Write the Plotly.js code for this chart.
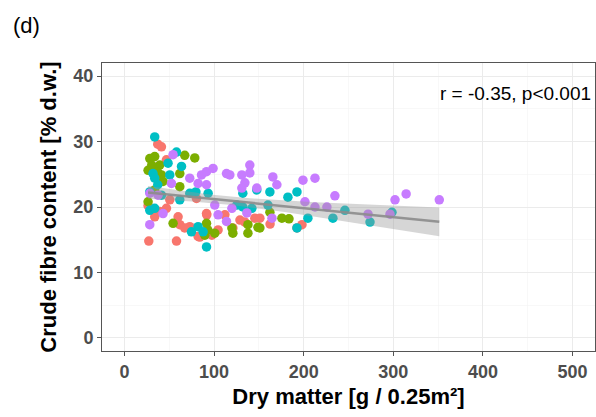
<!DOCTYPE html>
<html>
<head>
<meta charset="utf-8">
<script src="https://cdn.plot.ly/plotly-3.0.1.min.js"></script>
<style>html,body{margin:0;padding:0;background:#fff;}#chart{width:596px;height:417px;}</style>
</head>
<body>
<div id="chart"></div>
<script>
// Group 1 (red)
const redX = [41.3,37.2,46.9,26.4,39.4,46.9,59.9,61.8,72.9,58.1,82.2,91.6,104.5,80.4,27.2,33.8,50.6,67.3,134.4,145.5,151.1,121.0,198.1,192.5,97.6,128.9,112.1,162.5,84.1,91.9];
const redY = [29.2,29.6,27.2,20.2,19.3,19.8,18.5,17.3,17.0,14.8,15.5,19.0,16.5,21.3,14.8,18.5,21.1,16.8,17.7,18.3,18.3,16.8,17.3,16.8,15.7,18.0,18.8,17.4,15.4,18.8];
// Group 2 (green)
const greenX = [28.3,33.8,67.3,78.5,26.4,33.8,39.4,41.3,61.8,43.1,61.8,26.4,54.3,89.7,91.6,30.5,37.2,33.8,93.0,119.9,121.0,137.8,137.8,151.1,162.3,175.7,183.6,149.0,100.8];
const greenY = [27.4,27.7,27.9,27.5,25.6,25.9,26.4,24.9,25.1,23.9,23.1,20.8,17.5,15.7,17.5,26.4,25.3,22.6,16.5,16.8,16.0,17.3,16.0,16.8,19.2,18.3,18.2,16.9,16.0];
// Group 3 (cyan)
const cyanX = [33.8,48.7,58.1,31.9,33.8,50.6,63.7,28.3,41.3,93.4,61.8,28.3,33.8,74.8,82.2,87.8,91.6,79.7,72.9,37.2,125.4,132.1,142.2,132.1,147.7,162.3,182.4,192.5,160.1,204.7,192.5,232.6,246.0,274.0,298.5];
const cyanY = [30.7,26.7,28.4,25.1,24.4,24.9,26.2,22.3,21.8,22.1,21.1,19.5,19.8,16.2,17.0,16.2,13.9,22.3,22.1,23.4,20.3,20.0,19.8,22.1,22.6,22.3,21.5,22.3,20.3,18.3,16.8,18.3,19.5,17.7,19.2];
// Group 4 (purple)
const purpleX = [54.3,52.5,72.9,86.0,98.9,91.6,82.2,91.6,117.6,113.9,28.3,37.5,43.1,28.3,100.8,104.5,113.9,131.0,139.9,139.9,134.4,131.0,147.7,165.6,170.1,199.2,212.6,201.4,212.6,225.9,234.8,119.9,136.6,164.6,271.8,296.3,301.9,314.3,351.3];
const purpleY = [28.0,23.6,24.4,24.9,25.9,25.4,23.6,23.4,24.9,25.1,22.1,21.8,19.0,17.3,20.3,18.8,17.8,24.9,26.4,25.2,23.7,22.9,22.9,24.6,23.4,24.1,24.4,20.8,20.0,20.0,21.7,19.8,19.1,18.3,18.9,18.9,21.1,22.0,21.1];

const groupColors = ['#F8766D','#7CAE00','#00BFC4','#C77CFF'];
const xTickVals = [0,100,200,300,400,500];
const yTickVals = [0,10,20,30,40];
const statLabel = 'r = -0.35, p<0.001';

const groups = [[redX,redY],[greenX,greenY],[cyanX,cyanY],[purpleX,purpleY]];
const traces = groups.map((g,i)=>({
  type:'scatter', mode:'markers', x:g[0], y:g[1],
  marker:{color:groupColors[i], size:9.5, line:{width:0}},
  hoverinfo:'skip', showlegend:false
}));

// linear fit with 95% confidence band, computed from all points
const allX = [].concat(redX,greenX,cyanX,purpleX);
const allY = [].concat(redY,greenY,cyanY,purpleY);
const n = allX.length;
const mx = allX.reduce((a,b)=>a+b,0)/n, my = allY.reduce((a,b)=>a+b,0)/n;
let sxx=0, sxy=0;
for(let i=0;i<n;i++){sxx+=(allX[i]-mx)**2; sxy+=(allX[i]-mx)*(allY[i]-my);}
const b = sxy/sxx, a = my-b*mx;
let sse=0; for(let i=0;i<n;i++){sse+=(allY[i]-a-b*allX[i])**2;}
const s = Math.sqrt(sse/(n-2)), t = 1.977;
const xmin = Math.min(...allX), xmax = Math.max(...allX);
const fx=[], fy=[], lo=[], hi=[];
for(let k=0;k<=80;k++){
  const xv = xmin+(xmax-xmin)*k/80;
  const yv = a+b*xv;
  const se = s*Math.sqrt(1/n+(xv-mx)**2/sxx);
  fx.push(xv); fy.push(yv); lo.push(yv-t*se); hi.push(yv+t*se);
}
traces.push({type:'scatter',mode:'lines',x:fx.concat(fx.slice().reverse()),y:hi.concat(lo.slice().reverse()),
  fill:'toself',fillcolor:'rgba(153,153,153,0.4)',line:{width:0},hoverinfo:'skip',showlegend:false});
traces.push({type:'scatter',mode:'lines',x:fx,y:fy,line:{color:'rgba(140,140,140,0.9)',width:2.5},hoverinfo:'skip',showlegend:false});

const tickFont = {family:'Liberation Sans, Arial, sans-serif', size:18, color:'#4D4D4D', weight:'bold'};
const titleFont = {family:'Liberation Sans, Arial, sans-serif', size:22, color:'#000', weight:'bold'};

const layout = {
  width:596, height:417,
  margin:{l:102,r:1,t:63,b:66},
  paper_bgcolor:'#fff', plot_bgcolor:'#fff',
  showlegend:false,
  xaxis:{range:[-25,525], tickvals:xTickVals, ticktext:xTickVals.map(String),
    showgrid:true, gridcolor:'#EBEBEB', gridwidth:1,
    minor:{dtick:50, showgrid:true, gridcolor:'#F3F3F3', gridwidth:0.6},
    zeroline:false, showline:true, mirror:true, linecolor:'#555', linewidth:1,
    ticks:'outside', ticklen:4, tickcolor:'#555', tickfont:tickFont,
    title:{text:'Dry matter [g / 0.25m²]', font:titleFont, standoff:8}},
  yaxis:{range:[-2,42], tickvals:yTickVals, ticktext:yTickVals.map(String),
    showgrid:true, gridcolor:'#EBEBEB', gridwidth:1,
    minor:{dtick:5, showgrid:true, gridcolor:'#F3F3F3', gridwidth:0.6},
    zeroline:false, showline:true, mirror:true, linecolor:'#555', linewidth:1,
    ticks:'outside', ticklen:4, tickcolor:'#555', tickfont:tickFont,
    title:{text:'Crude fibre content [% d.w.]', font:titleFont, standoff:10}},
  annotations:[
    {xref:'x', yref:'y', x:436, y:37.4, text:statLabel, showarrow:false, xanchor:'center', yanchor:'middle',
     font:{family:'Liberation Sans, Arial, sans-serif', size:19, color:'#000'}},
    {xref:'paper', yref:'paper', x:-0.185, y:1.13, text:'(d)', showarrow:false, xanchor:'left', yanchor:'middle',
     font:{family:'Liberation Sans, Arial, sans-serif', size:22, color:'#000'}}
  ]
};
Plotly.newPlot('chart', traces, layout, {displayModeBar:false, staticPlot:true});
</script>
</body>
</html>
